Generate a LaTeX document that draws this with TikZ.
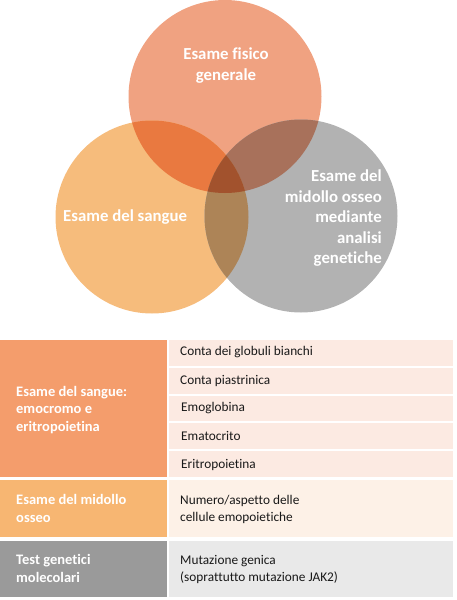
\documentclass[tikz,border=0pt]{standalone}
\usepackage{fontspec}
\setmainfont{Carlito}[Ligatures=NoCommon]
\definecolor{ctop}{RGB}{240,162,129}
\definecolor{cleft}{RGB}{246,188,124}
\definecolor{cright}{RGB}{178,178,178}
\definecolor{ctl}{RGB}{233,121,64}
\definecolor{ctr}{RGB}{168,113,91}
\definecolor{clr}{RGB}{173,132,87}
\definecolor{call}{RGB}{162,82,45}
\definecolor{gA}{RGB}{244,157,108}
\definecolor{gB}{RGB}{247,182,114}
\definecolor{gC}{RGB}{154,154,154}
\definecolor{lA}{RGB}{252,234,226}
\definecolor{lB}{RGB}{253,241,231}
\definecolor{lC}{RGB}{233,233,233}
\begin{document}
\begin{tikzpicture}[x=1pt,y=-1pt,
  ctext/.style={font=\fontsize{16.8}{20.5}\selectfont\bfseries, text=white, inner sep=0pt},
  lefttext/.style={font=\fontsize{14.5}{17.5}\selectfont\bfseries, text=white, inner sep=0pt, anchor=west, align=left},
  righttext/.style={font=\fontsize{13.3}{17.5}\selectfont, text=black!90, inner sep=0pt, anchor=west, align=left}]
\useasboundingbox (0,0) rectangle (456,600);
\coordinate (T) at (225,96.5);
\coordinate (L) at (152,217);
\coordinate (R) at (301,216);
\def\rr{96.5pt}
% circles
\fill[ctop] (T) circle[radius=\rr];
\fill[cleft] (L) circle[radius=\rr];
\fill[cright] (R) circle[radius=\rr];
\begin{scope}
  \clip (T) circle[radius=\rr];
  \fill[ctl] (L) circle[radius=\rr];
  \fill[ctr] (R) circle[radius=\rr];
\end{scope}
\begin{scope}
  \clip (L) circle[radius=\rr];
  \fill[clr] (R) circle[radius=\rr];
  \clip (R) circle[radius=\rr];
  \fill[call] (T) circle[radius=\rr];
\end{scope}
% circle labels
\node[ctext, align=center] (ttop) at (226,65.5) {Esame fisico\\generale};
\node[ctext, anchor=west] (tleft) at (63,217) {Esame del sangue};
\node[ctext, anchor=east, align=right] (tright) at (382,218.5) {Esame del\\midollo osseo\\mediante\\analisi\\genetiche};
% table
\fill[gA] (0,340) rectangle (167,477);
\fill[gB] (0,480) rectangle (167,537);
\fill[gC] (0,541) rectangle (167,597);
\fill[lA] (169,340) rectangle (453,366);
\fill[lA] (169,368) rectangle (453,394);
\fill[lA] (169,396) rectangle (453,421);
\fill[lA] (169,423) rectangle (453,449);
\fill[lA] (169,451) rectangle (453,477);
\fill[lB] (169,480) rectangle (453,537);
\fill[lC] (169,541) rectangle (453,597);
\node[lefttext] (g1) at (16,410) {Esame del sangue:\\emocromo e\\eritropoietina};
\node[lefttext] (g2) at (16,508.5) {Esame del midollo\\osseo};
\node[lefttext] (g3) at (16,568.5) {Test genetici\\molecolari};
\node[righttext] (r1) at (180,352.5) {Conta dei globuli bianchi};
\node[righttext] (r2) at (180,381) {Conta piastrinica};
\node[righttext] (r3) at (181,408.5) {Emoglobina};
\node[righttext] (r4) at (181,436) {Ematocrito};
\node[righttext] (r5) at (181,464.5) {Eritropoietina};
\node[righttext] (r6) at (180,509.5) {Numero/aspetto delle\\cellule emopoietiche};
\node[righttext] (r7) at (180,569.5) {Mutazione genica\\(soprattutto mutazione JAK2)};
\end{tikzpicture}
\end{document}
